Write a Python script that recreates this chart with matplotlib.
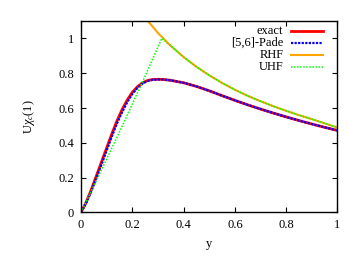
import matplotlib
matplotlib.use("Agg")
import matplotlib.pyplot as plt

plt.rcParams["font.family"] = ["Liberation Serif", "DejaVu Serif"]
plt.rcParams["mathtext.fontset"] = "custom"
plt.rcParams["mathtext.rm"] = "Liberation Serif"
plt.rcParams["mathtext.it"] = "Liberation Serif:italic"

# values
exact_y = [0, 0.02, 0.04, 0.06, 0.08, 0.10, 0.12, 0.14, 0.16, 0.18, 0.20, 0.22,
           0.24, 0.26, 0.28, 0.30, 0.32, 0.35, 0.40, 0.45, 0.50, 0.55, 0.60,
           0.65, 0.70, 0.75, 0.80, 0.85, 0.90, 0.95, 1.00]
exact_v = [0, 0.058, 0.13, 0.21, 0.29, 0.37, 0.45, 0.525, 0.59, 0.645, 0.69, 0.722,
           0.745, 0.758, 0.764, 0.765, 0.764, 0.759, 0.745, 0.724, 0.699, 0.671, 0.644,
           0.618, 0.594, 0.571, 0.549, 0.528, 0.508, 0.489, 0.471]
pade_v = [0, 0.053, 0.12, 0.198, 0.275, 0.355, 0.435, 0.51, 0.575, 0.632, 0.68, 0.715,
          0.74, 0.755, 0.762, 0.764, 0.764, 0.759, 0.745, 0.724, 0.699, 0.671, 0.644,
          0.618, 0.594, 0.571, 0.549, 0.528, 0.508, 0.489, 0.471]

rhf_y = [0.25, 0.30, 0.35, 0.40, 0.45, 0.50, 0.55, 0.60, 0.65, 0.70, 0.75, 0.80,
         0.85, 0.90, 0.95, 1.00]
rhf_v = [1.119, 1.031, 0.957, 0.893, 0.837, 0.788, 0.744, 0.705, 0.670, 0.639,
         0.610, 0.584, 0.559, 0.536, 0.512, 0.488]

uhf_y = [0, 0.05, 0.10, 0.15, 0.20, 0.25, 0.30, 0.315, 0.35, 0.40, 0.45, 0.50,
         0.55, 0.60, 0.65, 0.70, 0.75, 0.80, 0.85, 0.90, 0.95, 1.00]
uhf_v = [0, 0.152, 0.307, 0.462, 0.622, 0.783, 0.95, 1.0, 0.957, 0.893, 0.837, 0.788,
         0.744, 0.705, 0.670, 0.639, 0.610, 0.584, 0.559, 0.536, 0.512, 0.488]

labels = ["exact", "[5,6]-Pade", "RHF", "UHF"]
colors = ["#ff0000", "#0000ff", "#ffa500", "#00ff00"]
styles = ["-", (0, (1, 0.6)), "-", (0, (1, 1))]
widths = [2.0, 1.6, 1.5, 1.1]

fig = plt.figure(figsize=(3.49, 2.62), dpi=100)
ax = fig.add_axes([0.232, 0.189, 0.735, 0.731])

series = [(exact_y, exact_v), (exact_y, pade_v), (rhf_y, rhf_v), (uhf_y, uhf_v)]
for (xs, ys), c, ls, lw in zip(series, colors, styles, widths):
    ax.plot(xs, ys, color=c, ls=ls, lw=lw)

# gnuplot-style key: text right-aligned, sample to the right
for i, (lab, c, ls, lw) in enumerate(zip(labels, colors, styles, widths)):
    yk = 0.945 - 0.061 * i
    ax.text(0.789, yk, lab, transform=ax.transAxes, ha="right", va="center",
            fontsize=9)
    ax.plot([0.819, 0.942], [yk, yk], transform=ax.transAxes, color=c, ls=ls,
            lw=lw)

ax.set_xlim(0, 1)
ax.set_ylim(0, 1.1)
ax.set_xticks([0, 0.2, 0.4, 0.6, 0.8, 1])
ax.set_xticklabels(["0", "0.2", "0.4", "0.6", "0.8", "1"])
ax.set_yticks([0, 0.2, 0.4, 0.6, 0.8, 1])
ax.set_yticklabels(["0", "0.2", "0.4", "0.6", "0.8", "1"])
ax.tick_params(direction="in", top=True, right=True, length=3.5, width=0.8,
               labelsize=9, pad=5)
for s in ax.spines.values():
    s.set_linewidth(1.0)

ax.set_xlabel("y", fontsize=9, labelpad=5)
ax.set_ylabel(r"U$\chi_c$(1)", fontsize=9, labelpad=15)

fig.savefig("out.png", dpi=100)
